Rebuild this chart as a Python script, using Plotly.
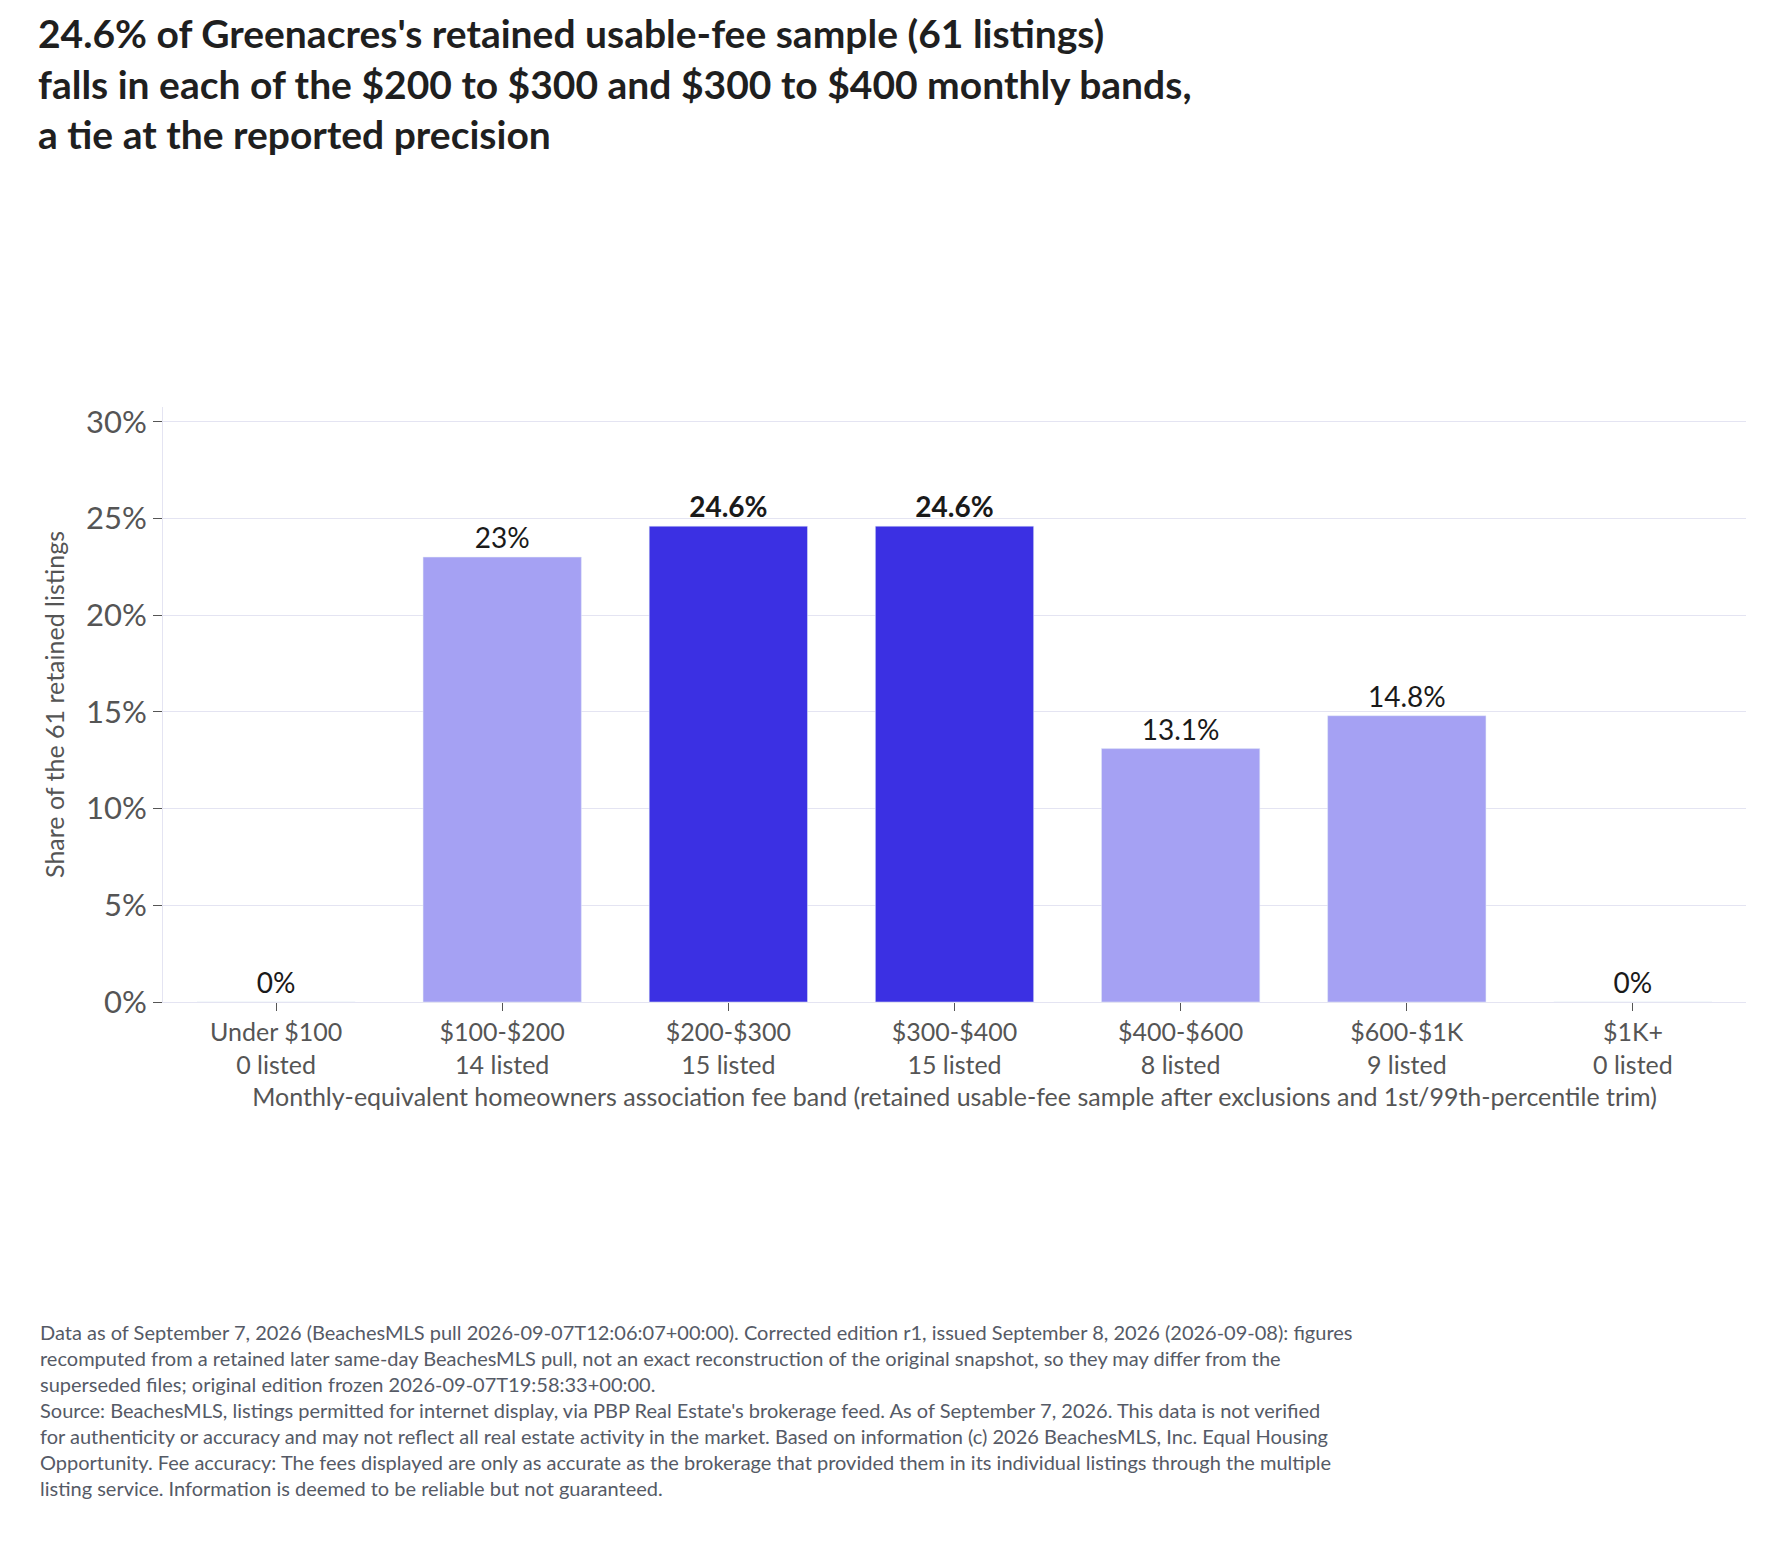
import plotly.graph_objects as go

bands = ["Under $100", "$100-$200", "$200-$300", "$300-$400", "$400-$600", "$600-$1K", "$1K+"]
counts = [0, 14, 15, 15, 8, 9, 0]
shares = [0, 23.0, 24.6, 24.6, 13.1, 14.8, 0]
labels = ["0%", "23%", "<b>24.6%</b>", "<b>24.6%</b>", "13.1%", "14.8%", "0%"]
highlight = [False, False, True, True, False, False, False]

title = ("24.6% of Greenacres's retained usable-fee sample (61 listings)<br>"
         "falls in each of the $200 to $300 and $300 to $400 monthly bands,<br>"
         "a tie at the reported precision")
footnote = (
    "Data as of September 7, 2026 (BeachesMLS pull 2026-09-07T12:06:07+00:00). Corrected edition r1, issued September 8, 2026 (2026-09-08): figures<br>"
    "recomputed from a retained later same-day BeachesMLS pull, not an exact reconstruction of the original snapshot, so they may differ from the<br>"
    "superseded files; original edition frozen 2026-09-07T19:58:33+00:00.<br>"
    "Source: BeachesMLS, listings permitted for internet display, via PBP Real Estate's brokerage feed. As of September 7, 2026. This data is not verified<br>"
    "for authenticity or accuracy and may not reflect all real estate activity in the market. Based on information (c) 2026 BeachesMLS, Inc. Equal Housing<br>"
    "Opportunity. Fee accuracy: The fees displayed are only as accurate as the brokerage that provided them in its individual listings through the multiple<br>"
    "listing service. Information is deemed to be reliable but not guaranteed."
)

ticktext = [f"{b}<br>{c} listed" for b, c in zip(bands, counts)]
colors = ["#3b30e3" if h else "#a5a1f3" for h in highlight]

fig = go.Figure(go.Bar(
    x=bands, y=shares, text=labels, textposition="outside",
    textfont=dict(size=28, color="#1a1a1a"), marker_color=colors,
    cliponaxis=False, hoverinfo="skip",
))

W, H = 1782, 1566
ml, mr, mt, mb = 155, 44, 399, 572
ph = H - mt - mb

fig.update_layout(
    width=W, height=H,
    margin=dict(l=ml, r=mr, t=mt, b=mb),
    font=dict(family="Lato", color="#444"),
    plot_bgcolor="white", paper_bgcolor="white",
    bargap=0.3, showlegend=False,
    title=dict(text="<b>" + title + "</b>", x=30 / W, xanchor="left",
               y=1 - 40 / H, yanchor="top",
               font=dict(size=39, color="#1f1f1f", family="Lato")),
    annotations=[dict(
        text=footnote, xref="paper", yref="paper", x=-(ml - 30) / (W - ml - mr),
        y=-(1310 - (H - mb)) / ph, xanchor="left", yanchor="top", align="left",
        showarrow=False, font=dict(size=20, color="#555a66"),
    )],
)
fig.update_yaxes(range=[0, 30.76], tickvals=[0, 5, 10, 15, 20, 25, 30],
                 ticktext=["0%", "5%", "10%", "15%", "20%", "25%", "30%"],
                 tickfont=dict(size=31, color="#555"), ticks="outside", ticklen=9,
                 tickcolor="#555", showgrid=True, gridcolor="#e4e4f2",
                 showline=True, linecolor="#e4e4f2", zeroline=False,
                 title=dict(text="Share of the 61 retained listings",
                            font=dict(size=25, color="#555"), standoff=14))
fig.update_xaxes(tickvals=bands, ticktext=ticktext, tickfont=dict(size=25, color="#555"),
                 ticks="outside", ticklen=8, tickcolor="#555", showline=True,
                 linecolor="#e4e4f2",
                 title=dict(text="Monthly-equivalent homeowners association fee band (retained usable-fee sample after exclusions and 1st/99th-percentile trim)",
                            font=dict(size=25, color="#555"), standoff=10))

fig.write_html("out.html")
